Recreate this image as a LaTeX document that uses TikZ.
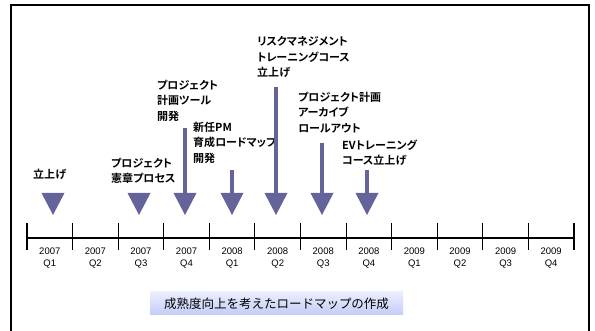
\documentclass[tikz,border=0pt]{standalone}
\usepackage{fontspec}
\setmainfont{Liberation Sans}
\newfontfamily\jp{Noto Sans CJK JP}[RawFeature=+palt,BoldFont={Noto Sans CJK JP Bold}]
\newfontfamily\jpm{Noto Sans CJK JP}
\definecolor{arrc}{RGB}{100,100,155}
\definecolor{boxtop}{RGB}{236,238,255}
\definecolor{boxbot}{RGB}{196,204,245}
\begin{document}
\begin{tikzpicture}[x=1pt,y=-1pt,
  frame/.style={line width=1.2pt,black},
  axis/.style={line width=1.1pt,black},
  lbl/.style={anchor=north west,inner sep=0pt,align=left,font=\jp\bfseries\fontsize{11}{15.5}\selectfont},
  yr/.style={align=center,inner sep=0pt,font=\fontsize{9.5}{11.5}\selectfont},
  shaft/.style={line width=3.5pt,arrc},
  arrhead/.style={fill=arrc},
  banner/.style={minimum width=253pt,minimum height=23pt,inner sep=0pt,top color=boxtop,bottom color=boxbot,draw=none,font=\jpm\fontsize{12.5}{14}\selectfont}]
\useasboundingbox (0,0) rectangle (595,331);
\draw[frame] (11,331) -- (11,5) -- (589,5) -- (589,331);
% timeline
\coordinate (tl0) at (27,238);
\coordinate (tl1) at (574,238);
\draw[axis] (tl0) -- (tl1);
\foreach \i in {0,...,12} {
  \coordinate (tk\i) at (27+45.58*\i,223);
  \draw[axis] (tk\i) -- ++(0,27);
}
\foreach \i/\y/\q in {0/2007/Q1,1/2007/Q2,2/2007/Q3,3/2007/Q4,4/2008/Q1,5/2008/Q2,6/2008/Q3,7/2008/Q4,8/2009/Q1,9/2009/Q2,10/2009/Q3,11/2009/Q4} {
  \node[yr] (y\i) at (49.8+45.58*\i,258) {\y\\\q};
}
% labels
\node[lbl] (l1) at (33,168.5) {立上げ};
\node[lbl] (l2) at (111,157.5) {プロジェクト\\憲章プロセス};
\node[lbl] (l3) at (157,79.5) {プロジェクト\\計画ツール\\開発};
\node[lbl] (l4) at (193,121.5) {新任PM\\育成ロードマップ\\開発};
\node[lbl] (l5) at (257,36.5) {リスクマネジメント\\トレーニングコース\\立上げ};
\node[lbl] (l6) at (298,91.5) {プロジェクト計画\\アーカイブ\\ロールアウト};
\node[lbl] (l7) at (342,139.5) {EVトレーニング\\コース立上げ};
% arrows
\foreach \n/\x/\t in {1/53/193,2/139/193,3/185/128,4/232/170,5/276/87,6/322/143,7/367/170} {
  \coordinate (s\n) at (\x,\t);
  \coordinate (t\n) at (\x,215);
  \draw[shaft] (s\n) -- ++(0,{200-\t});
  \fill[arrhead] (t\n) -- ++(-11.5,-22) -- ++(23,0) -- cycle;
}
% banner
\node[banner] (bn) at (276.5,303.5) {成熟度向上を考えたロードマップの作成};
\end{tikzpicture}
\end{document}
